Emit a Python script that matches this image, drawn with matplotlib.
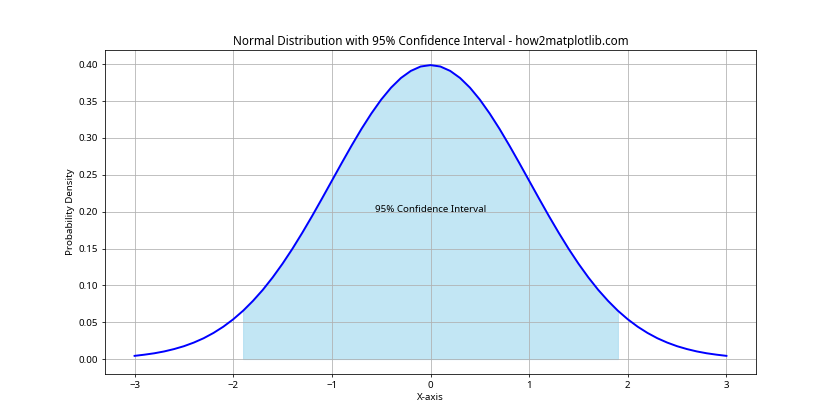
import matplotlib
matplotlib.use("Agg")
import matplotlib.pyplot as plt
import numpy as np

plt.rcParams['font.family'] = ['Noto Sans', 'DejaVu Sans']

# valores (x de -3 a 3 cada 0.1)
x_vals = [round(-3 + 0.1 * i, 1) for i in range(61)]
mitad = [0.3989, 0.3970, 0.3910, 0.3814, 0.3683, 0.3521, 0.3332, 0.3123,
         0.2897, 0.2661, 0.2420, 0.2179, 0.1942, 0.1714, 0.1497, 0.1295,
         0.1109, 0.0940, 0.0790, 0.0656, 0.0540, 0.0440, 0.0355, 0.0283,
         0.0224, 0.0175, 0.0136, 0.0104, 0.0079, 0.0060, 0.0044]
densidad = mitad[::-1] + mitad[1:]

limite_ic = 1.96
etiqueta_ic = "95% Confidence Interval"

x = np.array(x_vals)
y = np.array(densidad)

fig, ax = plt.subplots(figsize=(12, 6), dpi=70)
ax.plot(x, y, color='blue', linewidth=2)
ax.fill_between(x, y, where=(x >= -limite_ic) & (x <= limite_ic),
                color='skyblue', alpha=0.5)
ax.text(0, 0.2, etiqueta_ic, ha='center', fontsize=10)

ax.set_title("Normal Distribution with 95% Confidence Interval - how2matplotlib.com")
ax.set_xlabel("X-axis")
ax.set_ylabel("Probability Density")
ax.grid(True)

plt.savefig("out.png", dpi=70)
